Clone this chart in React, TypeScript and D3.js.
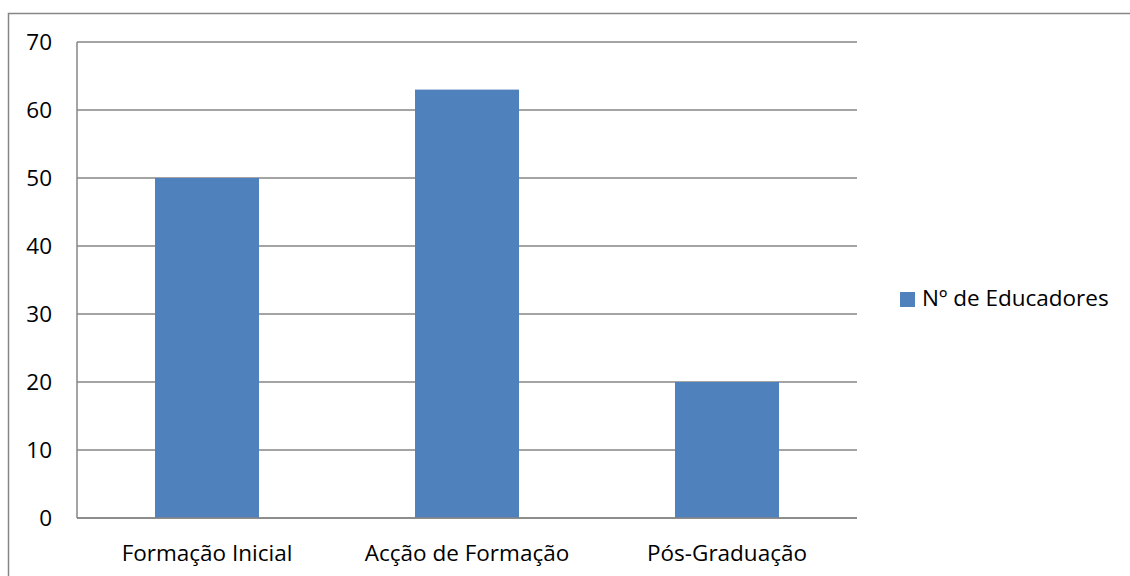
import { useEffect, useRef } from "react";
import * as d3 from "d3";

const categories = ["Formação Inicial", "Acção de Formação", "Pós-Graduação"];
const educadores = [50, 63, 20];
const yTicks = [0, 10, 20, 30, 40, 50, 60, 70];
const seriesName = "Nº de Educadores";

export default function App() {
  const svgRef = useRef<SVGSVGElement>(null);

  useEffect(() => {
    const width = 1130;
    const height = 576;
    const left = 77;
    const right = 857;
    const top = 42;
    const bottom = 518;
    const font = "'Open Sans', sans-serif";
    const fontSize = "22.5px";
    const grey = "#868686";

    const svg = d3.select(svgRef.current);
    svg.selectAll("*").remove();
    svg.attr("width", width).attr("height", height);

    svg.append("rect").attr("width", width).attr("height", height).attr("fill", "#fff");

    // chart frame (cut off at right and bottom)
    svg
      .append("rect")
      .attr("x", 8.5)
      .attr("y", 13.5)
      .attr("width", width)
      .attr("height", height)
      .attr("fill", "none")
      .attr("stroke", grey)
      .attr("stroke-width", 1.5);

    const x = d3
      .scaleBand<string>()
      .domain(categories)
      .range([left, right])
      .paddingInner(0.6)
      .paddingOuter(0.3);

    const y = d3.scaleLinear().domain([0, 70]).range([bottom, top]);

    // gridlines
    svg
      .append("g")
      .selectAll("line")
      .data(yTicks)
      .enter()
      .append("line")
      .attr("x1", left)
      .attr("x2", right)
      .attr("y1", (d) => y(d))
      .attr("y2", (d) => y(d))
      .attr("stroke", grey)
      .attr("stroke-width", 1.5);

    // y axis line
    svg
      .append("line")
      .attr("x1", left)
      .attr("x2", left)
      .attr("y1", top)
      .attr("y2", bottom)
      .attr("stroke", grey)
      .attr("stroke-width", 1.5);

    // bars
    svg
      .append("g")
      .selectAll("rect")
      .data(educadores)
      .enter()
      .append("rect")
      .attr("x", (d, i) => x(categories[i])!)
      .attr("y", (d) => y(d))
      .attr("width", x.bandwidth())
      .attr("height", (d) => bottom - y(d))
      .attr("fill", "#4F81BD");

    // redraw the baseline over the bars
    svg
      .append("line")
      .attr("x1", left)
      .attr("x2", right)
      .attr("y1", bottom)
      .attr("y2", bottom)
      .attr("stroke", grey)
      .attr("stroke-width", 1.5);

    // y tick labels
    svg
      .append("g")
      .selectAll("text")
      .data(yTicks)
      .enter()
      .append("text")
      .attr("x", 52)
      .attr("y", (d) => y(d))
      .attr("dy", "0.35em")
      .attr("text-anchor", "end")
      .style("font-family", font)
      .style("font-size", fontSize)
      .style("fill", "#000")
      .text((d) => d);

    // category labels
    svg
      .append("g")
      .selectAll("text")
      .data(categories)
      .enter()
      .append("text")
      .attr("x", (d) => x(d)! + x.bandwidth() / 2)
      .attr("y", 561)
      .attr("text-anchor", "middle")
      .style("font-family", font)
      .style("font-size", fontSize)
      .style("fill", "#000")
      .text((d) => d);

    // legend
    svg
      .append("rect")
      .attr("x", 900)
      .attr("y", 292)
      .attr("width", 15)
      .attr("height", 15)
      .attr("fill", "#4F81BD");
    svg
      .append("text")
      .attr("x", 922)
      .attr("y", 306)
      .style("font-family", font)
      .style("font-size", fontSize)
      .style("fill", "#000")
      .text(seriesName);
  }, []);

  return (
    <div style={{ position: "absolute", left: 0, top: 0 }}>
      <svg ref={svgRef} style={{ display: "block" }}></svg>
    </div>
  );
}
